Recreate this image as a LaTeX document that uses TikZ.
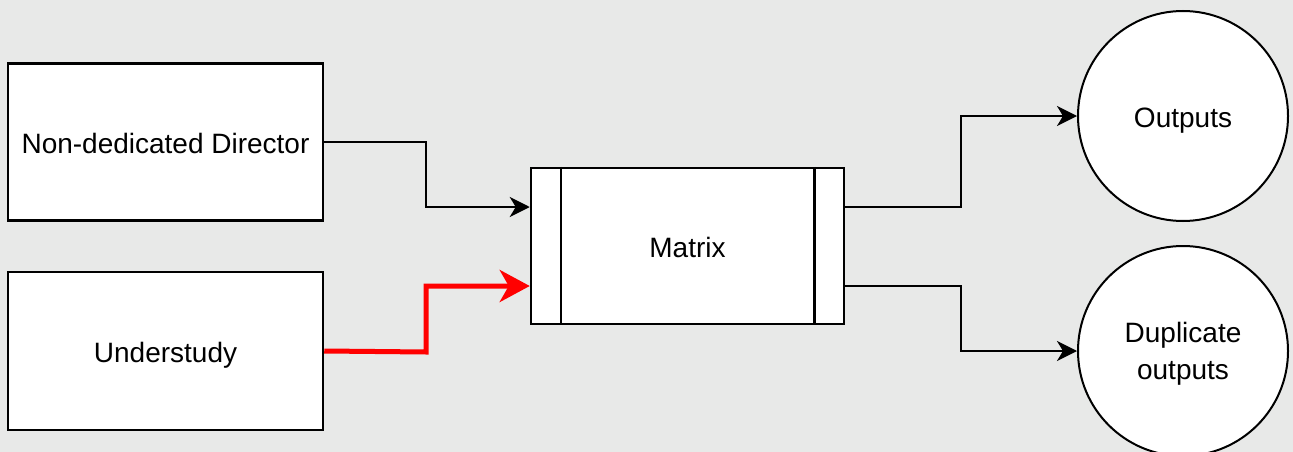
\documentclass[tikz,border=0pt]{standalone}
\usepackage{fontspec}
\setmainfont{Liberation Sans}
\usetikzlibrary{arrows.meta}
\definecolor{bg}{HTML}{E8E9E8}
\definecolor{redline}{HTML}{FF0000}
\tikzset{
  box/.style={draw=black, fill=white, line width=2.5pt, rectangle, inner sep=0pt, text height=23pt, text depth=0pt, font=\fontsize{28}{36}\selectfont},
  outc/.style={draw=black, fill=white, line width=2pt, circle, inner sep=0pt, minimum size=210pt, align=center, font=\fontsize{28}{37}\selectfont},
  conn/.style={draw=black, line width=2.5pt, -{Stealth[length=20pt,width=20pt,inset=6pt]}},
  redconn/.style={draw=redline, line width=5pt, -{Stealth[length=30pt,width=32pt,inset=9pt]}},
}
\begin{document}
\begin{tikzpicture}[x=1pt,y=-1pt]
\useasboundingbox[fill=bg] (0,0) rectangle (1293,452);
\node[box, minimum width=315pt, minimum height=157pt] (dir) at (165.5,142) {Non-dedicated Director};
\node[box, minimum width=315pt, minimum height=158pt] (und) at (165.5,351) {Understudy};
\node[box, minimum width=313pt, minimum height=156pt] (mx) at (687.5,246) {Matrix};
\draw[line width=2.5pt] ([xshift=31pt]mx.north west) -- ([xshift=31pt]mx.south west);
\draw[line width=2.5pt] ([xshift=-31pt]mx.north east) -- ([xshift=-31pt]mx.south east);
\node[outc, text height=22pt, text depth=0pt] (out) at (1183,116) {Outputs};
\node[outc, text depth=0pt] (dup) at (1183,351) {Duplicate\\outputs};
\draw[conn] (dir.east) -- (426,142) -- (426,207) -- (mx.west |- 0,207);
\draw[redconn] (und.east) -- (426,352) -- (426,286) -- (mx.west |- 0,286);
\draw[conn] (mx.east |- 0,207) -- (961,207) -- (961,116) -- (out.west);
\draw[conn] (mx.east |- 0,286) -- (961,286) -- (961,351) -- (dup.west);
\end{tikzpicture}
\end{document}
